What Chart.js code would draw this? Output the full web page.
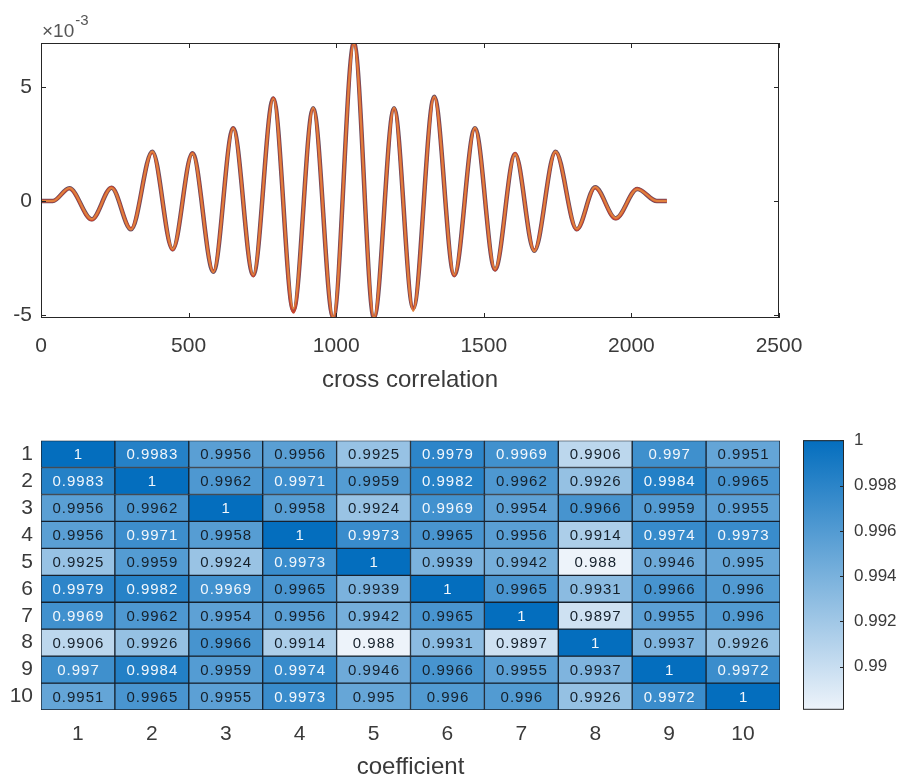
<!DOCTYPE html>
<html>
<head>
<meta charset="utf-8">
<script src="https://cdn.jsdelivr.net/npm/chart.js@4.4.0/dist/chart.umd.min.js"></script>
<style>
body{margin:0;background:#fff;overflow:hidden;width:909px;height:778px;position:relative}
canvas{position:absolute}
#lineChart{left:0;top:0}
#heatChart{left:0;top:420px}
#barChart{left:790px;top:420px}
</style>
</head>
<body>
<canvas id="lineChart" width="909" height="400"></canvas>
<canvas id="heatChart" width="800" height="380"></canvas>
<canvas id="barChart" width="119" height="310"></canvas>
<script>
// cross correlation, lag vs value (values in units of 1e-3), peaks and troughs
var lagX  = [0, 40, 96, 172, 239, 305, 377, 446, 513, 584, 651, 719, 787, 855, 922, 990, 1060, 1128, 1196, 1261, 1332, 1400, 1470, 1538, 1606, 1671, 1743, 1815, 1877, 1947, 2020, 2086, 2120];
var corrA = [0, 0, 0.56, -0.80, 0.58, -1.24, 2.16, -2.12, 2.09, -3.10, 3.19, -3.25, 4.50, -4.80, 4.07, -5.13, 6.93, -5.13, 4.07, -4.70, 4.57, -3.25, 3.19, -3.00, 2.06, -2.18, 2.16, -1.24, 0.60, -0.76, 0.53, 0, 0];
var corrB = [0, 0, 0.55, -0.82, 0.59, -1.22, 2.14, -2.14, 2.10, -3.08, 3.20, -3.28, 4.52, -4.88, 4.05, -5.13, 6.93, -5.13, 4.05, -4.72, 4.55, -3.27, 3.18, -3.02, 2.08, -2.16, 2.15, -1.26, 0.58, -0.78, 0.54, 0, 0];
var corrC = [0, 0, 0.57, -0.79, 0.57, -1.25, 2.17, -2.10, 2.08, -3.12, 3.18, -3.23, 4.48, -4.72, 4.09, -5.10, 6.90, -5.10, 4.09, -4.82, 4.58, -3.23, 3.21, -2.98, 2.05, -2.20, 2.17, -1.22, 0.61, -0.74, 0.52, 0, 0];
var xTicks = [0, 500, 1000, 1500, 2000, 2500];
var yTicks = [-5, 0, 5];

// correlation coefficients
var coefLabels = ['1', '2', '3', '4', '5', '6', '7', '8', '9', '10'];
var corrMatrix = [
  [1, 0.9983, 0.9956, 0.9956, 0.9925, 0.9979, 0.9969, 0.9906, 0.997, 0.9951],
  [0.9983, 1, 0.9962, 0.9971, 0.9959, 0.9982, 0.9962, 0.9926, 0.9984, 0.9965],
  [0.9956, 0.9962, 1, 0.9958, 0.9924, 0.9969, 0.9954, 0.9966, 0.9959, 0.9955],
  [0.9956, 0.9971, 0.9958, 1, 0.9973, 0.9965, 0.9956, 0.9914, 0.9974, 0.9973],
  [0.9925, 0.9959, 0.9924, 0.9973, 1, 0.9939, 0.9942, 0.988, 0.9946, 0.995],
  [0.9979, 0.9982, 0.9969, 0.9965, 0.9939, 1, 0.9965, 0.9931, 0.9966, 0.996],
  [0.9969, 0.9962, 0.9954, 0.9956, 0.9942, 0.9965, 1, 0.9897, 0.9955, 0.996],
  [0.9906, 0.9926, 0.9966, 0.9914, 0.988, 0.9931, 0.9897, 1, 0.9937, 0.9926],
  [0.997, 0.9984, 0.9959, 0.9974, 0.9946, 0.9966, 0.9955, 0.9937, 1, 0.9972],
  [0.9951, 0.9965, 0.9955, 0.9973, 0.995, 0.996, 0.996, 0.9926, 0.9972, 1]
];
var cbTicks = [0.99, 0.992, 0.994, 0.996, 0.998, 1];
var cbMin = 0.9881;
var cbMax = 1;

var FONT = '"Liberation Sans", Arial, Helvetica, sans-serif';
var AXIS = '#262626';
var TXT = '#3a3a3a';
var lowRGB = [237, 243, 250];
var highRGB = [4, 110, 190];

function colorFor(v)
{
    var t = (v - cbMin) / (cbMax - cbMin);
    if (t < 0) t = 0;
    if (t > 1) t = 1;
    var c = [];
    for (var i = 0; i < 3; i++) {
        c.push(Math.round(lowRGB[i] + (highRGB[i] - lowRGB[i]) * t));
    }
    return 'rgb(' + c.join(',') + ')';
}

function toPoints(xs, ys)
{
    var pts = [];
    for (var i = 0; i < xs.length; i++) {
        pts.push({x: xs[i], y: ys[i]});
    }
    return pts;
}

// box around plot area + inward tick marks like matlab
function boxPlugin(len, doX, doY, onlyRight)
{
    return {
        id: 'box',
        afterDraw: function(chart) {
            var a = chart.chartArea, ctx = chart.ctx;
            ctx.save();
            ctx.strokeStyle = AXIS;
            ctx.lineWidth = 1;
            ctx.strokeRect(a.left + 0.5, a.top + 0.5, a.right - a.left - 1, a.bottom - a.top - 1);
            ctx.beginPath();
            if (doX) {
                chart.scales.x.ticks.forEach(function(t) {
                    var px = Math.round(chart.scales.x.getPixelForValue(t.value)) + 0.5;
                    ctx.moveTo(px, a.bottom); ctx.lineTo(px, a.bottom - len);
                    ctx.moveTo(px, a.top); ctx.lineTo(px, a.top + len);
                });
            }
            if (doY) {
                chart.scales.y.ticks.forEach(function(t) {
                    var py = Math.round(chart.scales.y.getPixelForValue(t.value)) + 0.5;
                    if (!onlyRight) {
                        ctx.moveTo(a.left, py); ctx.lineTo(a.left + len, py);
                    }
                    ctx.moveTo(a.right, py); ctx.lineTo(a.right - len, py);
                });
            }
            ctx.stroke();
            ctx.restore();
        }
    };
}

var expPlugin = {
    id: 'exponent',
    afterDraw: function(chart) {
        var ctx = chart.ctx;
        ctx.save();
        ctx.fillStyle = '#555';
        ctx.textBaseline = 'alphabetic';
        ctx.font = '19px ' + FONT;
        ctx.fillText('\u00d710', 42, 37);
        var w = ctx.measureText('\u00d710').width;
        ctx.font = '15px ' + FONT;
        ctx.fillText('-3', 42 + w + 1, 25);
        ctx.restore();
    }
};

var cellText = {
    id: 'cellText',
    afterDatasetsDraw: function(chart) {
        var ctx = chart.ctx;
        ctx.save();
        ctx.font = '15px ' + FONT;
        ctx.letterSpacing = '1px';
        ctx.textAlign = 'center';
        ctx.textBaseline = 'middle';
        chart.data.datasets.forEach(function(ds, r) {
            var meta = chart.getDatasetMeta(r);
            meta.data.forEach(function(el, c) {
                var v = corrMatrix[r][c];
                var p = el.getCenterPoint();
                ctx.fillStyle = v >= 0.9967 ? '#f2f7fc' : '#15202b';
                ctx.fillText(String(v), p.x + 0.5, p.y + 1);
            });
        });
        ctx.restore();
    }
};

Chart.defaults.font.family = FONT;
Chart.defaults.color = TXT;
Chart.defaults.animation = false;

// ---- top: cross correlation lines
new Chart(document.getElementById('lineChart'), {
    type: 'line',
    data: {
        datasets: [
            {data: toPoints(lagX, corrC), borderColor: '#e0803e', borderWidth: 2},
            {data: toPoints(lagX, corrB), borderColor: '#c8452f', borderWidth: 3},
            {data: toPoints(lagX, corrA), borderColor: '#6a4e60', borderWidth: 4.5}
        ]
    },
    options: {
        responsive: false,
        cubicInterpolationMode: 'monotone',
        elements: {point: {radius: 0}},
        layout: {padding: {top: 43, right: 130, left: 0, bottom: 0}},
        plugins: {legend: {display: false}, tooltip: {enabled: false}},
        scales: {
            x: {
                type: 'linear', min: 0, max: 2500,
                grid: {display: false, drawTicks: false}, border: {display: false},
                afterBuildTicks: function(s) { s.ticks = xTicks.map(function(v) { return {value: v}; }); },
                afterFit: function(s) { s.height = 82; },
                ticks: {
                    font: {size: 21}, padding: 16, maxRotation: 0, color: TXT,
                    callback: function(v) { return String(v); }
                },
                title: {display: true, text: 'cross correlation', font: {size: 24}, color: TXT, padding: {top: 0, bottom: 5.6}}
            },
            y: {
                min: -5.13, max: 6.93,
                grid: {display: false, drawTicks: false}, border: {display: false},
                afterBuildTicks: function(s) { s.ticks = yTicks.map(function(v) { return {value: v}; }); },
                afterFit: function(s) { s.width = 41; },
                ticks: {
                    font: {size: 21}, padding: 9, color: TXT,
                    callback: function(v) { return String(v); }
                }
            }
        }
    },
    plugins: [boxPlugin(5, true, true, false), expPlugin]
});

// ---- bottom: heatmap as stacked bars, one dataset per row
var rowSets = [];
for (var r = 0; r < coefLabels.length; r++) {
    rowSets.push({
        data: coefLabels.map(function() { return 1; }),
        backgroundColor: (function(row) {
            return function(ctx) { return colorFor(corrMatrix[row][ctx.dataIndex]); };
        })(r),
        borderColor: '#17222e',
        borderWidth: 1,
        borderSkipped: false,
        barPercentage: 1,
        categoryPercentage: 1
    });
}

new Chart(document.getElementById('heatChart'), {
    type: 'bar',
    data: {labels: coefLabels, datasets: rowSets},
    options: {
        responsive: false,
        layout: {padding: {top: 16, right: 20, left: 0, bottom: 0}},
        plugins: {legend: {display: false}, tooltip: {enabled: false}},
        scales: {
            x: {
                stacked: true,
                grid: {display: false, drawTicks: false}, border: {display: false},
                afterFit: function(s) { s.height = 90; },
                ticks: {font: {size: 21}, padding: 12, color: TXT},
                title: {display: true, text: 'coefficient', font: {size: 24}, color: TXT, padding: {top: 0, bottom: 18.6}}
            },
            y: {
                stacked: true, reverse: true, min: 0, max: 10,
                grid: {display: false, drawTicks: false}, border: {display: false},
                afterBuildTicks: function(s) { s.ticks = coefLabels.map(function(l, i) { return {value: i + 0.5}; }); },
                afterFit: function(s) { s.width = 41; },
                ticks: {
                    font: {size: 21}, padding: 8, color: TXT,
                    callback: function(v, i) { return coefLabels[i]; }
                }
            }
        }
    },
    plugins: [cellText]
});

// ---- colorbar
new Chart(document.getElementById('barChart'), {
    type: 'bar',
    data: {
        labels: [''],
        datasets: [{
            data: [[cbMin, cbMax]],
            backgroundColor: function(ctx) {
                var ch = ctx.chart;
                if (!ch.chartArea) return colorFor(cbMax);
                var s = ch.scales.y;
                var g = ch.ctx.createLinearGradient(0, s.getPixelForValue(cbMin), 0, s.getPixelForValue(cbMax));
                g.addColorStop(0, colorFor(cbMin));
                g.addColorStop(1, colorFor(cbMax));
                return g;
            },
            borderWidth: 0,
            barPercentage: 1,
            categoryPercentage: 1
        }]
    },
    options: {
        responsive: false,
        layout: {padding: {top: 16, right: 0, left: 13, bottom: 20}},
        plugins: {legend: {display: false}, tooltip: {enabled: false}},
        scales: {
            x: {display: false},
            y: {
                position: 'right', min: cbMin, max: cbMax,
                grid: {display: false, drawTicks: false}, border: {display: false},
                afterBuildTicks: function(s) { s.ticks = cbTicks.map(function(v) { return {value: v}; }); },
                afterFit: function(s) { s.width = 65; },
                ticks: {
                    font: {size: 17}, padding: 10, color: TXT,
                    callback: function(v) { return String(v); }
                }
            }
        }
    },
    plugins: [boxPlugin(4, false, true, true)]
});
</script>
</body>
</html>
